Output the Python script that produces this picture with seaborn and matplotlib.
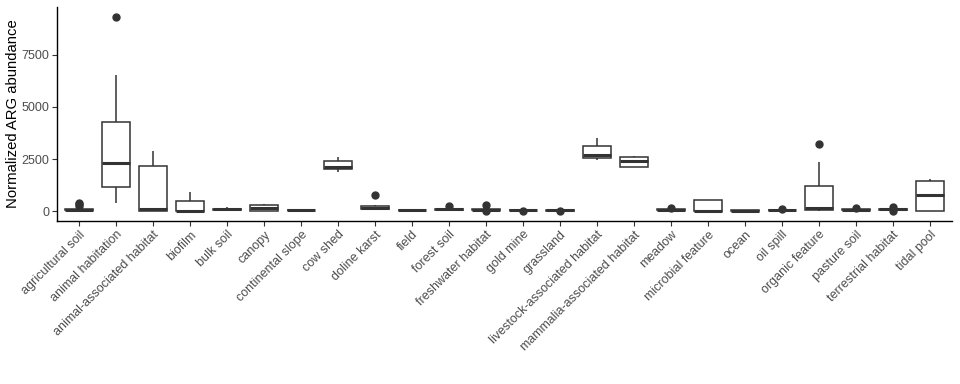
import pandas as pd
import matplotlib
matplotlib.use("Agg")
import matplotlib.pyplot as plt
import seaborn as sns

# habitats in plotting order
habitats = [
    "agricultural soil", "animal habitation", "animal-associated habitat", "biofilm",
    "bulk soil", "canopy", "continental slope", "cow shed", "doline karst", "field",
    "forest soil", "freshwater habitat", "gold mine", "grassland",
    "livestock-associated habitat", "mammalia-associated habitat", "meadow",
    "microbial feature", "ocean", "oil spill", "organic feature", "pasture soil",
    "terrestrial habitat", "tidal pool",
]

# normalized ARG abundance per sample
agricultural_soil = [10, 30, 45, 55, 65, 75, 80, 90, 100, 115, 260, 330, 400]
animal_habitation = [385, 800, 1180, 1800, 2310, 3300, 4290, 6520, 9310]
animal_associated = [0, 10, 100, 2190, 2885]
biofilm = [0, 0, 20, 470, 940]
bulk_soil = [30, 60, 100, 130, 205]
canopy = [0, 10, 145, 300, 365]
continental_slope = [30, 45, 60, 75, 90]
cow_shed = [1875, 2000, 2130, 2410, 2620]
doline_karst = [60, 90, 120, 140, 170, 200, 240, 300, 800]
field = [40, 55, 65, 80, 95]
forest_soil = [40, 60, 70, 80, 90, 100, 110, 130, 270]
freshwater = [0, 60, 70, 75, 80, 90, 100, 130, 300]
gold_mine = [0, 35, 40, 45, 50, 55, 60, 65, 70]
grassland = [0, 30, 35, 40, 45, 50, 55, 60, 65]
livestock = [2450, 2550, 2690, 3110, 3490]
mammalia = [2140, 2140, 2400, 2620, 2650]
meadow = [20, 40, 50, 60, 70, 80, 90, 100, 180]
microbial_feature = [0, 0, 20, 560, 560]
ocean = [10, 20, 30, 40, 50]
oil_spill = [10, 30, 40, 50, 55, 60, 70, 80, 120]
organic_feature = [0, 30, 50, 100, 145, 600, 1200, 2370, 3230]
pasture_soil = [30, 50, 60, 70, 80, 90, 100, 110, 170]
terrestrial = [0, 70, 80, 90, 100, 110, 120, 130, 200]
tidal_pool = [0, 0, 785, 1470, 1565]

values = [
    agricultural_soil, animal_habitation, animal_associated, biofilm, bulk_soil,
    canopy, continental_slope, cow_shed, doline_karst, field, forest_soil,
    freshwater, gold_mine, grassland, livestock, mammalia, meadow,
    microbial_feature, ocean, oil_spill, organic_feature, pasture_soil,
    terrestrial, tidal_pool,
]

rows = []
for h, vals in zip(habitats, values):
    for v in vals:
        rows.append({"habitat": h, "abundance": v})
df = pd.DataFrame(rows)

sns.set_theme(style="ticks")
plt.rcParams["font.family"] = ["Liberation Sans", "DejaVu Sans"]

fig = plt.figure(figsize=(9.6, 3.84), dpi=100)
ax = fig.add_axes([57 / 960, 1 - 221 / 384, 895 / 960, 214 / 384])

# ggplot-like boxes: white fill, no whisker caps
sns.boxplot(data=df, x="habitat", y="abundance", order=habitats, ax=ax,
            color="white", linecolor="#333333", linewidth=1.1, width=0.75,
            showcaps=False,
            medianprops=dict(linewidth=2.2, color="#333333"),
            flierprops=dict(marker="o", markersize=5, markerfacecolor="#333333",
                            markeredgecolor="#333333"))

ax.set_xlim(-0.6, len(habitats) - 0.4)
ax.set_ylim(-465, 9775)
ax.set_yticks([0, 2500, 5000, 7500])
ax.set_xlabel("")
ax.set_ylabel("Normalized ARG abundance", fontsize=10.7, color="black", labelpad=1)
ax.tick_params(axis="both", labelsize=9, labelcolor="#4D4D4D", color="#333333",
               length=3.5, width=0.8, pad=2)
plt.setp(ax.get_xticklabels(), rotation=45, ha="right", rotation_mode="anchor")
for s in ["left", "bottom"]:
    ax.spines[s].set_color("black")
    ax.spines[s].set_linewidth(1.0)
sns.despine(ax=ax)

fig.savefig("out.png", dpi=100)
